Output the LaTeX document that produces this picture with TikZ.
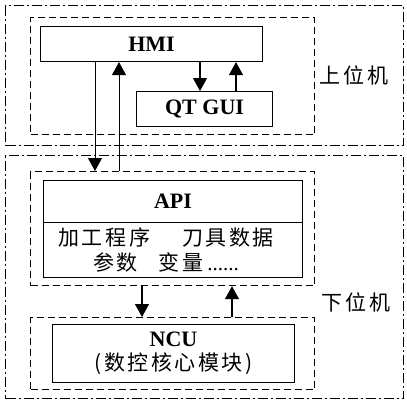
\documentclass[tikz,border=0pt]{standalone}
\usepackage{fontspec}
\setmainfont{Liberation Serif}
\newfontfamily\cjk{Noto Sans CJK SC}[LetterSpace=12]
\usetikzlibrary{arrows.meta, positioning}

\begin{document}
\begin{tikzpicture}[
    x=1pt, y=-1pt,
    % ── Box styles ──
    hostbox/.style={rectangle, draw, line width=1.2pt, inner sep=0pt, anchor=north west,
                    dash pattern=on 10pt off 3pt on 2pt off 3pt},
    grpbox/.style={rectangle, draw, line width=1.2pt, inner sep=0pt, anchor=north west,
                   dash pattern=on 7pt off 4pt},
    modbox/.style={rectangle, draw, line width=1.1pt, inner sep=0pt, anchor=north west,
                   align=center, font=\fontsize{22}{24}\selectfont\bfseries},
    cjktxt/.style={align=center, font=\fontsize{21}{25.5}\selectfont\cjk},
    hostlbl/.style={font=\fontsize{21}{24}\selectfont\cjk},
    arr/.style={-{Triangle[length=13pt, width=14pt]}, line width=1.4pt},
    thinarr/.style={-{Triangle[length=13pt, width=14pt]}, line width=0.9pt}
]
\useasboundingbox (0,0) rectangle (407,405);

% ═══ Upper host ═══
\node[hostbox, minimum width=398pt, minimum height=140pt] (uphost) at (5,5) {};
\node[grpbox,  minimum width=284pt, minimum height=117pt] (upgrp)  at (30,17) {};
\node[modbox,  minimum width=222pt, minimum height=35pt]  (hmi)    at (40,26) {HMI};
\node[modbox,  minimum width=136pt, minimum height=35pt]  (qt)     at (136,91) {QT GUI};
\node[hostlbl] (uplbl) at (354,75) {上位机};

% ═══ Lower host ═══
\node[hostbox, minimum width=398pt, minimum height=243pt] (lowhost) at (5,155) {};
\node[grpbox,  minimum width=284pt, minimum height=114pt] (apigrp)  at (30,171) {};
\node[modbox,  minimum width=259pt, minimum height=42pt]  (apihead) at (43,180) {API};
\node[modbox,  minimum width=259pt, minimum height=55pt]  (apibody) at (43,222) {};
\node[cjktxt] (apitxt) at ([xshift=-7pt]apibody.center)
  {加工程序\hspace{32pt}刀具数据\\参数\hspace{21pt}变量\hspace{4pt}{\rmfamily......}};
\node[grpbox,  minimum width=284pt, minimum height=72pt]  (ncugrp)  at (30,317) {};
\node[modbox,  minimum width=242pt, minimum height=58pt]  (ncu)     at (52,324)
  {NCU\\{\mdseries\cjk\fontsize{21}{24}\selectfont (数控核心模块)}};
\node[hostlbl] (lowlbl) at (356,302) {下位机};

% ═══ Connectors ═══
\draw[arr] ([xshift=160pt]hmi.south west) -- ([xshift=64pt]qt.north west);
\draw[arr] ([xshift=100pt]qt.north west) -- ([xshift=196pt]hmi.south west);
\draw[thinarr] ([xshift=55pt]hmi.south west) -- ([xshift=65pt]apigrp.north west);
\draw[thinarr] ([xshift=89pt]apigrp.north west) -- ([xshift=79pt]hmi.south west);
\draw[arr] ([xshift=112pt]apigrp.south west) -- ([xshift=112pt]ncugrp.north west);
\draw[arr] ([xshift=202pt]ncugrp.north west) -- ([xshift=202pt]apigrp.south west);

\end{tikzpicture}
\end{document}
